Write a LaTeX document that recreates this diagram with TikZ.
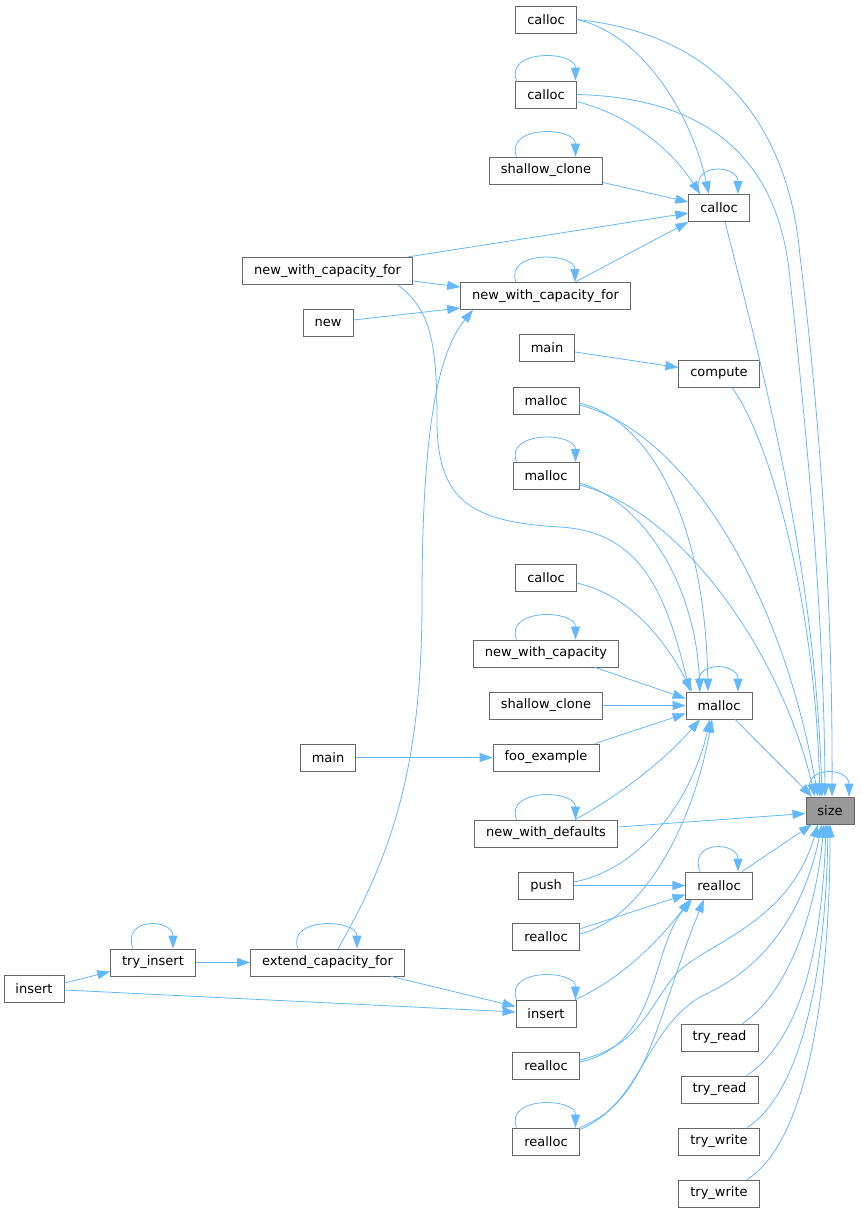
\documentclass[tikz,border=0pt]{standalone}
\usepackage{fontspec}
\setmainfont{DejaVu Sans}
\usetikzlibrary{arrows.meta}
\definecolor{edgeblue}{HTML}{63B8FF}
\definecolor{boxgray}{HTML}{666666}
\definecolor{targetgray}{HTML}{999999}
\tikzset{
    every node/.style={align=center,font=\fontsize{13}{15}\selectfont,},
    func/.style={draw=boxgray,line width=0.8pt,fill=white,rectangle,minimum height=27pt,inner xsep=11.5pt,inner ysep=0pt,},
    target/.style={func,fill=targetgray,},
    call/.style={draw=edgeblue,line width=0.8pt,-{Triangle[length=13pt,width=9pt]},},
    recursion/.style={call,to path={([xshift=-#1]\tikztostart.north) .. controls +(-12,-32) and +(0,-30) .. ([xshift=#1]\tikztostart.north)},},
}
\begin{document}
\begin{tikzpicture}[x=1pt,y=-1pt]
    \useasboundingbox (0,0) rectangle (860,1213);

    \node[func] (calloc_a) at (546, 19.5) {calloc};
    \node[func] (calloc_b) at (546, 94.5) {calloc};
    \node[func] (shallow_clone_a) at (546, 170.5) {shallow\_clone};
    \node[func] (calloc_mid) at (719, 208) {calloc};
    \node[func] (nwcf_outer) at (327.5, 271) {new\_with\_capacity\_for};
    \node[func] (nwcf_inner) at (545.5, 296) {new\_with\_capacity\_for};
    \node[func] (new_fn) at (328, 322.5) {new};
    \node[func] (main_a) at (547, 348) {main};
    \node[func] (compute) at (719, 373.5) {compute};
    \node[func] (malloc_a) at (546, 400.5) {malloc};
    \node[func] (malloc_b) at (546, 476) {malloc};
    \node[func] (calloc_c) at (546, 577.5) {calloc};
    \node[func] (nwc) at (546, 653.5) {new\_with\_capacity};
    \node[func] (shallow_clone_b) at (546, 705.5) {shallow\_clone};
    \node[func] (malloc_mid) at (719, 705.5) {malloc};
    \node[func] (main_b) at (328, 757.5) {main};
    \node[func] (foo_example) at (546, 757.5) {foo\_example};
    \node[func] (nwd) at (546, 833.5) {new\_with\_defaults};
    \node[target] (size) at (830, 810.5) {size};
    \node[func] (push) at (546, 885.5) {push};
    \node[func] (realloc_mid) at (719, 885.5) {realloc};
    \node[func] (realloc_a) at (546, 937) {realloc};
    \node[func] (try_insert) at (153, 962.5) {try\_insert};
    \node[func] (extend) at (327.5, 962.5) {extend\_capacity\_for};
    \node[func] (insert_outer) at (34, 988.5) {insert};
    \node[func] (insert_inner) at (546, 1013.5) {insert};
    \node[func] (realloc_b) at (546, 1065.5) {realloc};
    \node[func] (realloc_c) at (546, 1141.5) {realloc};
    \node[func] (try_read_a) at (719.5, 1037.5) {try\_read};
    \node[func] (try_read_b) at (719.5, 1089.5) {try\_read};
    \node[func] (try_write_a) at (719, 1141.5) {try\_write};
    \node[func] (try_write_b) at (719, 1193.5) {try\_write};

    \draw[recursion=29.5pt] (calloc_b) to (calloc_b);
    \draw[recursion=29.5pt] (shallow_clone_a) to (shallow_clone_a);
    \draw[recursion=19pt] (calloc_mid) to (calloc_mid);
    \draw[recursion=29.5pt] (nwcf_inner) to (nwcf_inner);
    \draw[recursion=29.5pt] (malloc_b) to (malloc_b);
    \draw[recursion=29.5pt] (nwc) to (nwc);
    \draw[recursion=19pt] (malloc_mid) to (malloc_mid);
    \draw[recursion=29.5pt] (nwd) to (nwd);
    \draw[recursion=19pt] (size) to (size);
    \draw[recursion=19pt] (realloc_mid) to (realloc_mid);
    \draw[recursion=20pt] (try_insert) to (try_insert);
    \draw[recursion=29.5pt] (extend) to (extend);
    \draw[recursion=29.5pt] (insert_inner) to (insert_inner);
    \draw[recursion=29.5pt] (realloc_c) to (realloc_c);

    \draw[call] (calloc_a.east) .. controls (640,33) and (690,110) .. ([xshift=-10pt]calloc_mid.north);
    \draw[call] (calloc_a.east) .. controls (730,35) and (790,140) .. (800,256) .. controls (816,385) and (833,580) .. ([xshift=2pt]size.north);
    \draw[call] ([yshift=-7pt]calloc_b.east) .. controls (630,115) and (672,150) .. ([xshift=-19pt]calloc_mid.north);
    \draw[call] (calloc_b.east) .. controls (720,98) and (780,170) .. (790,279) .. controls (803,400) and (824,600) .. ([xshift=-5pt]size.north);
    \draw[call] ([yshift=-12pt]shallow_clone_a.east) to ([yshift=6pt]calloc_mid.west);
    \draw[call] ([xshift=-6pt]nwcf_outer.north east) to ([yshift=-5pt]calloc_mid.west);
    \draw[call] ([xshift=29.5pt]nwcf_inner.north) to (calloc_mid.south west);
    \draw[call] ([xshift=6pt]calloc_mid.south) .. controls (760,360) and (815,560) .. ([xshift=-8pt]size.north);

    \draw[call] ([yshift=-10pt]nwcf_outer.east) to ([yshift=9pt]nwcf_inner.west);
    \draw[call] ([yshift=2.5pt]new_fn.east) to ([yshift=-12pt]nwcf_inner.west);
    \draw[call] ([xshift=10.5pt]extend.north) .. controls (395,850) and (422,760) .. (422,600) .. controls (422,420) and (440,350) .. ([xshift=-72.5pt]nwcf_inner.south);
    \draw[call] ([xshift=70.5pt]nwcf_outer.south) .. controls (430,310) and (437,340) .. (437,420) .. controls (437,500) and (470,522) .. (560,527) .. controls (640,532) and (665,590) .. ([xshift=-29pt]malloc_mid.north);

    \draw[call] ([yshift=-4pt]main_a.east) to ([yshift=6pt]compute.west);
    \draw[call] ([xshift=13pt]compute.south) .. controls (770,440) and (815,600) .. ([xshift=-10pt]size.north);

    \draw[call] ([yshift=-2.5pt]malloc_a.east) .. controls (650,420) and (705,520) .. ([xshift=-11pt]malloc_mid.north);
    \draw[call] ([yshift=-4.5pt]malloc_a.east) .. controls (680,430) and (780,580) .. ([xshift=-12pt]size.north);
    \draw[call] ([yshift=-7pt]malloc_b.east) .. controls (640,500) and (695,580) .. ([xshift=-19pt]malloc_mid.north);
    \draw[call] ([yshift=-9pt]malloc_b.east) .. controls (680,510) and (780,650) .. ([xshift=-15pt]size.north);
    \draw[call] ([yshift=-5.5pt]calloc_c.east) .. controls (630,595) and (665,640) .. ([xshift=-27pt]malloc_mid.north);

    \draw[call] ([xshift=49pt]nwc.south) to ([yshift=7pt]malloc_mid.west);
    \draw[call] (shallow_clone_b.east) to (malloc_mid.west);
    \draw[call] ([xshift=49pt]foo_example.north) to ([yshift=-8pt]malloc_mid.west);
    \draw[call] (main_b.east) to (foo_example.west);
    \draw[call] ([xshift=29pt]nwd.north) .. controls (620,795) and (665,760) .. ([xshift=-19pt]malloc_mid.south);
    \draw[call] ([yshift=6.5pt]nwd.east) to ([yshift=-3pt]size.west);
    \draw[call] ([xshift=16pt]malloc_mid.south) to ([xshift=-18pt]size.north);

    \draw[call] ([yshift=3.5pt]push.east) .. controls (640,870) and (692,800) .. ([xshift=-9pt]malloc_mid.south);
    \draw[call] (push.east) to (realloc_mid.west);
    \draw[call] ([yshift=3pt]realloc_a.east) .. controls (640,920) and (692,830) .. ([xshift=-7pt]malloc_mid.south);
    \draw[call] ([yshift=8pt]realloc_a.east) to ([yshift=-9pt]realloc_mid.west);
    \draw[call] ([xshift=23pt]realloc_mid.north) to ([xshift=-18pt]size.south);

    \draw[call] ([yshift=5.5pt]insert_outer.east) to ([yshift=-9pt]try_insert.west);
    \draw[call] (try_insert.east) to (extend.west);
    \draw[call] ([xshift=63.5pt]extend.south) to ([yshift=7pt]insert_inner.west);
    \draw[call] ([yshift=-1.5pt]insert_outer.east) to ([yshift=1.5pt]insert_inner.west);
    \draw[call] ([xshift=29pt]insert_inner.north) .. controls (620,980) and (660,940) .. ([xshift=-29pt]realloc_mid.south);

    \draw[call] ([yshift=3.5pt]realloc_b.east) .. controls (660,1045) and (650,950) .. ([xshift=-27pt]realloc_mid.south);
    \draw[call] ([yshift=5.5pt]realloc_b.east) .. controls (645,1045) and (650,1000) .. (680,970) .. controls (715,940) and (790,920) .. ([xshift=-12pt]size.south);
    \draw[call] (realloc_c.north east) .. controls (650,1100) and (655,1020) .. ([xshift=-15pt]realloc_mid.south);
    \draw[call] ([yshift=-2pt]realloc_c.north east) .. controls (640,1105) and (645,1030) .. (700,997) .. controls (750,975) and (800,930) .. ([xshift=-8pt]size.south);

    \draw[call] ([xshift=23pt]try_read_a.north) .. controls (785,995) and (815,920) .. ([xshift=-6pt]size.south);
    \draw[call] ([xshift=27pt]try_read_b.north) .. controls (800,1040) and (822,950) .. ([xshift=-4pt]size.south);
    \draw[call] ([xshift=28pt]try_write_a.north) .. controls (805,1090) and (826,960) .. ([xshift=-2pt]size.south);
    \draw[call] ([xshift=28pt]try_write_b.north) .. controls (810,1140) and (830,980) .. (size.south);
\end{tikzpicture}
\end{document}
